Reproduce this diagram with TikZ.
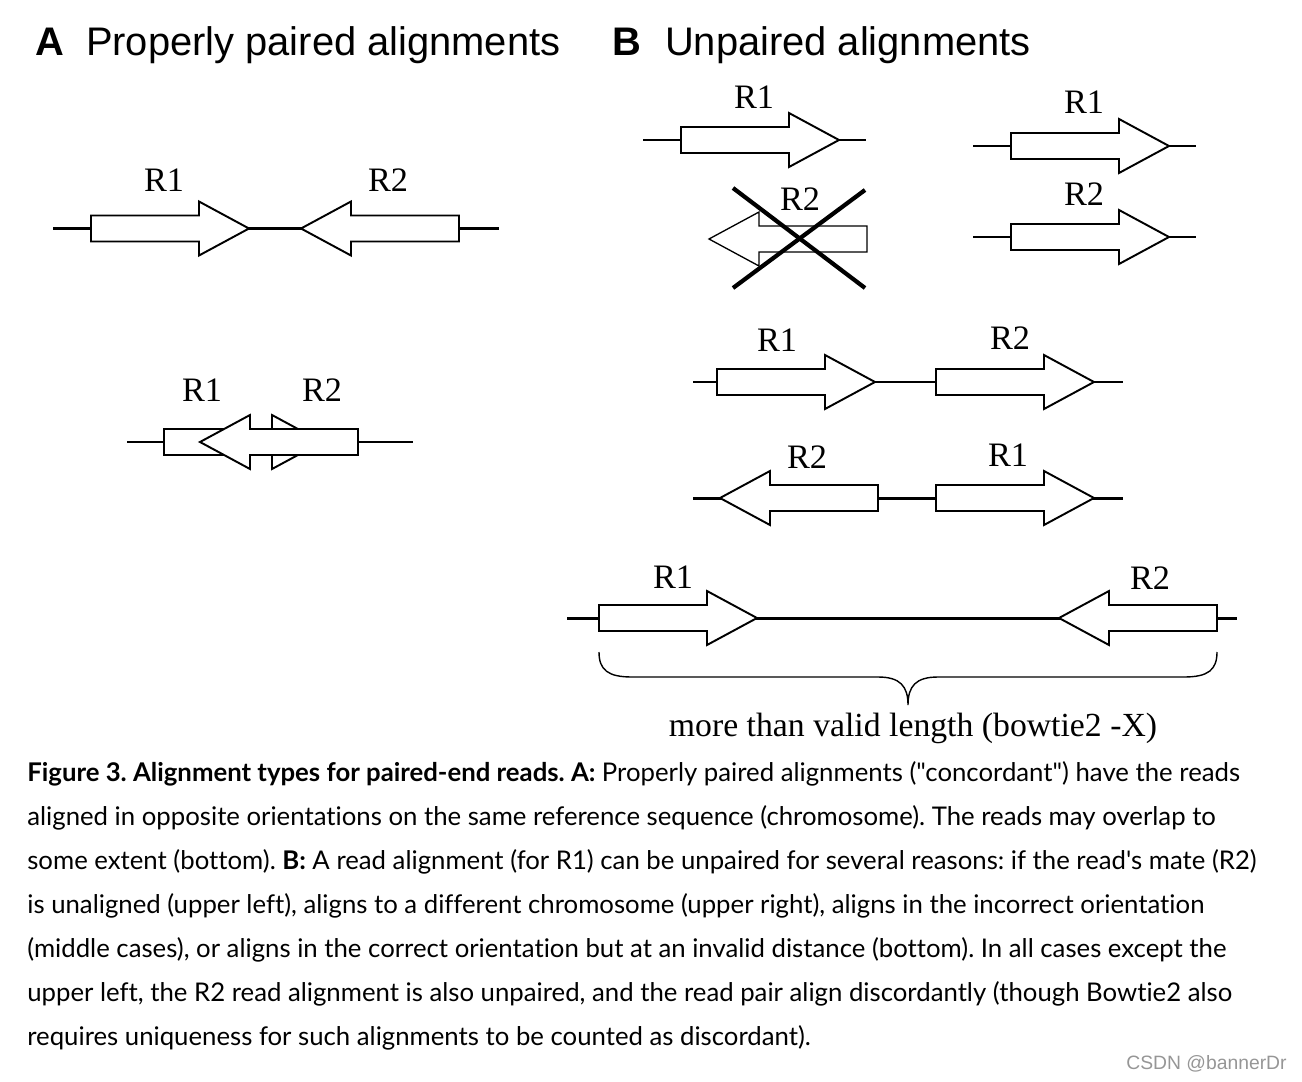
\documentclass[tikz,border=0pt]{standalone}
\usepackage{fontspec}
\usepackage{tikz}
\usetikzlibrary{positioning}
\newfontfamily\headfont{Liberation Sans}
\newfontfamily\lblfont{Liberation Serif}
\newfontfamily\capfont[Ligatures=NoCommon]{Lato}
\frenchspacing
\definecolor{markgray}{RGB}{150,150,150}
\tikzstyle{read} = [draw, fill=white, line width=1.1pt, line join=miter]
\tikzstyle{deadread} = [draw, fill=white, line width=0.75pt, line join=miter]
\tikzstyle{genome} = [line width=1.7pt]
\tikzstyle{cross} = [line width=2.4pt]
\tikzstyle{brace} = [line width=0.8pt]
\tikzstyle{lbl} = [font=\lblfont\fontsize{19.5}{23}\selectfont, inner sep=0pt]
\tikzstyle{title} = [font=\headfont\fontsize{22.7}{27}\selectfont, anchor=base west, inner sep=0pt]
\tikzstyle{capline} = [font=\capfont\fontsize{14.65}{17}\selectfont, anchor=base west, inner sep=0pt]
% reads: tail x, centre y (body 108, head 50)
\newcommand{\fwdread}[3][read]{\draw[#1] (#2,#3-13) -- ++(108,0) -- ++(0,-14) -- ++(50,27) -- ++(-50,27) -- ++(0,-14) -- ++(-108,0) -- cycle;}
\newcommand{\revread}[3][read]{\draw[#1] (#2,#3-13) -- ++(-108,0) -- ++(0,-14) -- ++(-50,27) -- ++(50,27) -- ++(0,-14) -- ++(108,0) -- cycle;}

\begin{document}
\begin{tikzpicture}[x=0.02cm, y=-0.02cm]
  \useasboundingbox (0,0) rectangle (1302,1082);

  % titles
  \node[title] (titleA) at (35,55) {\textbf{A}\hspace{0.55em}Properly paired alignments};
  \node[title] (titleB) at (612,55) {\textbf{B}\hspace{0.6em}Unpaired alignments};

  % A, top: concordant pair
  \coordinate (a1l) at (53,228.5);
  \coordinate (a1r) at (499,228.5);
  \draw[genome] (a1l) -- (a1r);
  \fwdread{91}{228.5}
  \revread{459}{228.5}
  \node[lbl] (a1r1) at (164,180) {R1};
  \node[lbl] (a1r2) at (388,180) {R2};

  % A, bottom: overlapping pair
  \coordinate (a2l) at (127,442);
  \coordinate (a2r) at (413,442);
  \draw[genome] (a2l) -- (a2r);
  \fwdread{164}{442}
  \revread{358}{442}
  \node[lbl] (a2r1) at (202,390) {R1};
  \node[lbl] (a2r2) at (322,390) {R2};

  % B, upper left: mate unaligned
  \coordinate (b1l) at (643,140);
  \coordinate (b1r) at (866,140);
  \draw[genome] (b1l) -- (b1r);
  \fwdread{681}{140}
  \node[lbl] (b1r1) at (754,97) {R1};
  \revread[deadread]{867}{239}
  \node[lbl] (b1r2) at (800,199) {R2};
  \draw[cross] (733,188) -- (865,288);
  \draw[cross] (865,190) -- (733,288);

  % B, upper right: different chromosomes
  \coordinate (b2l) at (973,146);
  \coordinate (b2r) at (1196,146);
  \draw[genome] (b2l) -- (b2r);
  \fwdread{1011}{146}
  \node[lbl] (b2r1) at (1084,102) {R1};
  \coordinate (b3l) at (973,237);
  \coordinate (b3r) at (1196,237);
  \draw[genome] (b3l) -- (b3r);
  \fwdread{1011}{237}
  \node[lbl] (b3r2) at (1084,194) {R2};

  % B, middle: wrong orientation
  \coordinate (b4l) at (693,382);
  \coordinate (b4r) at (1123,382);
  \draw[genome] (b4l) -- (b4r);
  \fwdread{717}{382}
  \fwdread{936}{382}
  \node[lbl] (b4r1) at (777,340) {R1};
  \node[lbl] (b4r2) at (1010,338) {R2};

  \coordinate (b5l) at (693,498);
  \coordinate (b5r) at (1123,498);
  \draw[genome] (b5l) -- (b5r);
  \revread{878}{498}
  \fwdread{936}{498}
  \node[lbl] (b5r2) at (807,457) {R2};
  \node[lbl] (b5r1) at (1008,455) {R1};

  % B, bottom: too far apart
  \coordinate (b6l) at (567,618);
  \coordinate (b6r) at (1237,618);
  \draw[genome] (b6l) -- (b6r);
  \fwdread{599}{618}
  \revread{1217}{618}
  \node[lbl] (b6r1) at (673,577) {R1};
  \node[lbl] (b6r2) at (1150,578) {R2};
  \draw[brace] (599,652) .. controls (599,670) and (608,677) .. (632,677) -- (878,677)
    .. controls (900,677) and (908,686) .. (908,705)
    .. controls (908,686) and (916,677) .. (938,677) -- (1184,677)
    .. controls (1208,677) and (1217,670) .. (1217,652);
  \node[lbl, font=\lblfont\fontsize{19.2}{23}\selectfont] (span) at (913,728) {more than valid length (bowtie2 -X)};

  % caption
  \node[capline] (cap1) at (27,781) {\textbf{Figure 3. Alignment types for paired-end reads. A:} Properly paired alignments ("concordant") have the reads};
  \node[capline] (cap2) at (27,825) {aligned in opposite orientations on the same reference sequence (chromosome). The reads may overlap to};
  \node[capline] (cap3) at (27,869) {some extent (bottom). \textbf{B:} A read alignment (for R1) can be unpaired for several reasons: if the read's mate (R2)};
  \node[capline] (cap4) at (27,913) {is unaligned (upper left), aligns to a different chromosome (upper right), aligns in the incorrect orientation};
  \node[capline] (cap5) at (27,957) {(middle cases), or aligns in the correct orientation but at an invalid distance (bottom). In all cases except the};
  \node[capline] (cap6) at (27,1001) {upper left, the R2 read alignment is also unpaired, and the read pair align discordantly (though Bowtie2 also};
  \node[capline] (cap7) at (27,1045) {requires uniqueness for such alignments to be counted as discordant).};

  \node[font=\headfont\fontsize{11}{13}\selectfont, text=markgray, anchor=east, inner sep=0pt] (mark) at (1287,1064) {CSDN @bannerDr};
\end{tikzpicture}
\end{document}
